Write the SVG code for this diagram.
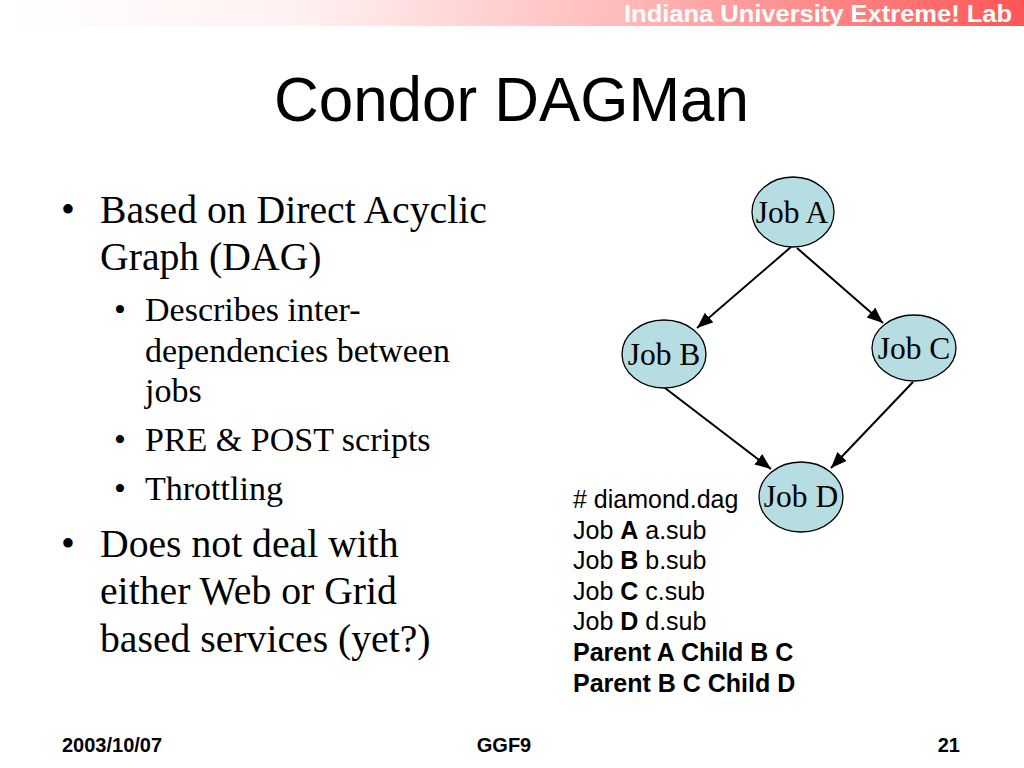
<svg xmlns="http://www.w3.org/2000/svg" width="1024" height="768" viewBox="0 0 1024 768">
  <style>
    .serif { font-family: "Liberation Serif", "Times New Roman", serif; fill: #000; }
    .sans { font-family: "Liberation Sans", Arial, sans-serif; fill: #000; }
    .l1 { font-size: 39.7px; }
    .l2 { font-size: 34px; }
    .code { font-size: 25px; }
    .b { font-weight: bold; }
    .node ellipse { fill: #b6dde2; stroke: #000; stroke-width: 1.3; }
    .node text { font-family: "Liberation Serif", "Times New Roman", serif; font-size: 31.5px; text-anchor: middle; fill: #000; }
    .edge { stroke: #000; stroke-width: 2; fill: none; marker-end: url(#arrow); }
    .foot { font-family: "Liberation Sans", Arial, sans-serif; font-size: 20px; font-weight: bold; fill: #000; }
  </style>
  <defs>
    <linearGradient id="band" x1="0" y1="0" x2="1" y2="0">
      <stop offset="0" stop-color="#ffffff"/>
      <stop offset="0.3" stop-color="#fff0f0"/>
      <stop offset="0.6" stop-color="#ffbcbc"/>
      <stop offset="1" stop-color="#ff5555"/>
    </linearGradient>
    <marker id="arrow" markerUnits="userSpaceOnUse" markerWidth="18" markerHeight="14" refX="16" refY="6.5" orient="auto">
      <path d="M0,0 L16,6.5 L0,13 z" fill="#000"/>
    </marker>
  </defs>
  <rect width="1024" height="768" fill="#ffffff"/>
  <g id="header">
    <rect x="0" y="0" width="1024" height="26" fill="url(#band)"/>
    <text x="1012" y="22" text-anchor="end" font-family="'Liberation Sans', Arial, sans-serif" font-size="24" font-weight="bold" fill="#ffffff" textLength="388" lengthAdjust="spacingAndGlyphs">Indiana University Extreme! Lab</text>
  </g>
  <g id="title">
    <text x="274" y="121" class="sans" font-size="63" textLength="475" lengthAdjust="spacingAndGlyphs">Condor DAGMan</text>
  </g>
  <g id="bullets">
    <text x="61" y="223" class="serif l1">•</text>
    <text x="100" y="223" class="serif l1">Based on Direct Acyclic</text>
    <text x="100" y="270" class="serif l1">Graph (DAG)</text>
    <text x="114" y="321" class="serif l2">•</text>
    <text x="145" y="321" class="serif l2">Describes inter-</text>
    <text x="145" y="362" class="serif l2">dependencies between</text>
    <text x="145" y="402" class="serif l2">jobs</text>
    <text x="114" y="451" class="serif l2">•</text>
    <text x="145" y="451" class="serif l2">PRE &amp; POST scripts</text>
    <text x="114" y="500" class="serif l2">•</text>
    <text x="145" y="500" class="serif l2">Throttling</text>
    <text x="61" y="557" class="serif l1">•</text>
    <text x="100" y="557" class="serif l1">Does not deal with</text>
    <text x="100" y="604" class="serif l1">either Web or Grid</text>
    <text x="100" y="652" class="serif l1">based services (yet?)</text>
  </g>
  <g id="code" class="sans code">
    <text x="573" y="508" class="sans code"># diamond.dag</text>
    <text x="573" y="539" class="sans code">Job <tspan class="b">A</tspan> a.sub</text>
    <text x="573" y="569" class="sans code">Job <tspan class="b">B</tspan> b.sub</text>
    <text x="573" y="600" class="sans code">Job <tspan class="b">C</tspan> c.sub</text>
    <text x="573" y="630" class="sans code">Job <tspan class="b">D</tspan> d.sub</text>
    <text x="573" y="661" class="sans code b">Parent A Child B C</text>
    <text x="573" y="692" class="sans code b">Parent B C Child D</text>
  </g>
  <g id="connectors">
    <line class="edge" x1="791" y1="247" x2="697" y2="328"/>
    <line class="edge" x1="797" y1="248" x2="883" y2="323"/>
    <line class="edge" x1="665" y1="388" x2="771" y2="469"/>
    <line class="edge" x1="913" y1="382" x2="831" y2="468"/>
  </g>
  <g id="jobA" class="node">
    <ellipse cx="793" cy="212" rx="41" ry="35"/>
    <text x="792" y="223">Job A</text>
  </g>
  <g id="jobB" class="node">
    <ellipse cx="664" cy="354" rx="42" ry="34"/>
    <text x="664" y="365">Job B</text>
  </g>
  <g id="jobC" class="node">
    <ellipse cx="914" cy="348" rx="42" ry="33"/>
    <text x="914" y="359">Job C</text>
  </g>
  <g id="jobD" class="node">
    <ellipse cx="801" cy="497" rx="42" ry="35"/>
    <text x="801" y="507">Job D</text>
  </g>
  <g id="footer">
    <text x="62" y="752" class="foot">2003/10/07</text>
    <text x="504" y="752" class="foot" text-anchor="middle">GGF9</text>
    <text x="960" y="752" class="foot" text-anchor="end">21</text>
  </g>
</svg>
